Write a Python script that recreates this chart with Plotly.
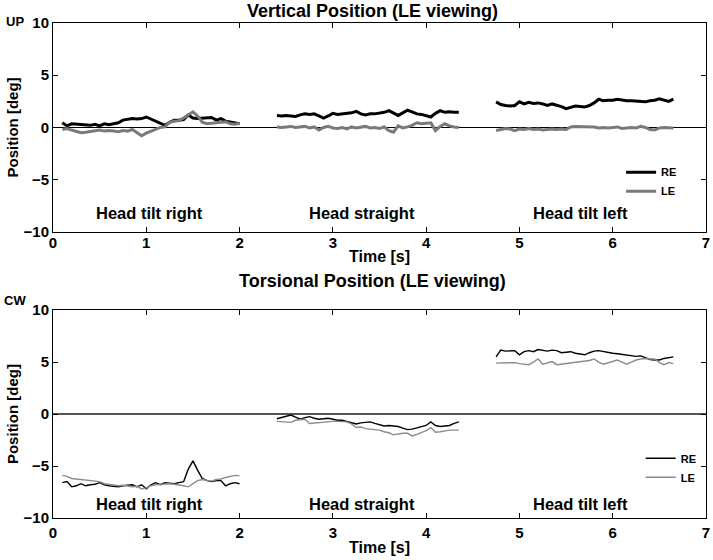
import numpy as np
import plotly.graph_objects as go

# ---- time bases (s) ----
t_seg1 = np.round(np.arange(0.10, 2.001, 0.05), 2)
t_seg2 = np.round(np.arange(2.40, 4.351, 0.05), 2)
t_seg3 = np.round(np.arange(4.75, 6.651, 0.05), 2)

# ---- Vertical position (deg) ----
vert_re_seg1 = [0.45, 0.15, 0.35, 0.3, 0.3, 0.25, 0.2, 0.3, 0.15, 0.35, 0.25, 0.35, 0.45, 0.7, 0.75,
                0.85, 0.8, 0.85, 1.0, 0.8, 0.6, 0.4, 0.2, 0.5, 0.7, 0.7, 0.75, 1.2, 0.9, 0.85,
                0.9, 0.9, 0.95, 0.7, 0.85, 0.6, 0.5, 0.45, 0.35]
vert_le_seg1 = [-0.2, -0.1, -0.25, -0.35, -0.5, -0.45, -0.4, -0.3, -0.25, -0.35, -0.3, -0.35, -0.4, -0.3, -0.35,
                -0.2, -0.5, -0.8, -0.55, -0.35, -0.15, 0.0, 0.05, 0.5, 0.6, 0.65, 0.9, 1.2, 1.5, 1.1,
                0.5, 0.35, 0.4, 0.45, 0.5, 0.55, 0.35, 0.3, 0.4]
vert_re_seg2 = [1.15, 1.1, 1.15, 1.1, 1.05, 1.2, 1.3, 1.25, 1.3, 1.1, 0.9, 1.1, 1.35, 1.25, 1.3,
                1.3, 1.4, 1.55, 1.3, 1.2, 1.3, 1.3, 1.35, 1.45, 1.6, 1.4, 1.15, 1.4, 1.65, 1.5,
                1.3, 1.25, 1.1, 1.0, 1.35, 1.6, 1.45, 1.5, 1.45, 1.45]
vert_le_seg2 = [0.05, 0.0, 0.05, 0.1, 0.0, 0.05, 0.1, -0.05, 0.05, -0.25, 0.0, 0.1, -0.05, -0.1, 0.0,
                -0.15, 0.05, -0.05, 0.0, 0.1, -0.05, 0.0, -0.1, 0.05, -0.3, -0.45, 0.15, -0.05, 0.05, 0.2,
                0.45, 0.35, 0.4, 0.45, -0.3, 0.1, 0.35, 0.15, 0.05, 0.0]
vert_re_seg3 = [2.45, 2.2, 2.1, 2.05, 2.1, 2.45, 2.25, 2.4, 2.3, 2.35, 2.25, 2.1, 2.25, 2.15, 2.0,
                1.8, 1.95, 2.05, 2.0, 1.95, 2.1, 2.35, 2.7, 2.55, 2.6, 2.6, 2.7, 2.6, 2.55, 2.55,
                2.5, 2.5, 2.45, 2.55, 2.6, 2.75, 2.6, 2.5, 2.7]
vert_le_seg3 = [-0.3, -0.2, -0.1, -0.15, -0.3, -0.15, -0.2, -0.1, -0.2, -0.15, -0.25, -0.2, -0.15, -0.2, -0.15,
                -0.2, 0.05, 0.1, 0.1, 0.1, 0.05, 0.05, -0.05, 0.0, -0.05, 0.0, 0.05, -0.1, -0.05, 0.0,
                -0.05, 0.1, 0.0, -0.2, -0.25, -0.05, 0.0, -0.05, -0.05]

# ---- Torsional position (deg) ----
tors_re_seg1 = [-6.6, -6.5, -7.0, -6.9, -6.7, -6.9, -6.8, -6.75, -6.6, -6.8, -6.9, -6.95, -7.0, -6.9, -6.85,
                -6.8, -7.0, -6.8, -7.2, -6.8, -6.6, -6.8, -6.6, -6.65, -6.7, -6.6, -6.5, -5.3, -4.5, -5.4,
                -6.2, -6.4, -6.5, -6.4, -6.4, -6.9, -6.7, -6.6, -6.7]
tors_le_seg1 = [-5.9, -6.0, -6.2, -6.25, -6.3, -6.35, -6.4, -6.45, -6.5, -6.7, -6.75, -6.8, -6.9, -6.85, -6.95,
                -7.0, -6.95, -7.2, -7.1, -6.9, -6.8, -6.75, -6.7, -6.7, -6.75, -6.8, -6.9, -7.0, -6.7, -6.4,
                -6.3, -6.4, -6.45, -6.3, -6.25, -6.1, -6.0, -5.9, -5.95]
tors_re_seg2 = [-0.45, -0.35, -0.2, -0.1, -0.3, -0.5, -0.35, -0.25, -0.4, -0.5, -0.45, -0.4, -0.5, -0.6, -0.6,
                -0.7, -0.85, -0.95, -0.85, -0.8, -0.75, -0.9, -1.05, -1.15, -1.1, -1.15, -1.2, -1.35, -1.5, -1.45,
                -1.35, -1.25, -1.1, -0.75, -1.1, -1.2, -1.15, -1.1, -0.9, -0.75]
tors_le_seg2 = [-0.7, -0.75, -0.75, -0.8, -0.6, -0.55, -0.5, -0.9, -0.85, -0.8, -0.75, -0.7, -0.7, -0.7, -0.72,
                -0.75, -0.95, -1.3, -1.25, -1.4, -1.45, -1.5, -1.55, -1.7, -1.8, -2.0, -1.9, -1.85, -1.85, -2.1,
                -1.95, -1.75, -1.6, -1.3, -1.75, -1.7, -1.6, -1.55, -1.55, -1.55]
tors_re_seg3 = [5.5, 6.15, 6.05, 6.05, 6.1, 5.7, 6.0, 6.1, 6.0, 6.2, 6.1, 6.05, 6.15, 6.1, 5.9,
                5.95, 6.0, 5.85, 5.75, 5.7, 5.9, 6.05, 6.1, 6.0, 5.9, 5.85, 5.8, 5.75, 5.7, 5.6,
                5.55, 5.6, 5.4, 5.25, 5.2, 5.2, 5.35, 5.4, 5.5]
tors_le_seg3 = [4.9, 4.9, 4.9, 4.95, 4.95, 4.85, 4.8, 4.75, 5.0, 5.3, 4.8, 4.95, 5.05, 4.75, 4.8,
                4.9, 4.95, 4.95, 5.0, 5.05, 5.15, 5.3, 5.0, 4.8, 4.95, 5.05, 5.2, 5.0, 4.8, 5.0,
                5.2, 5.3, 5.35, 5.3, 5.3, 4.95, 4.75, 4.95, 4.85]

condition_labels = ["Head tilt right", "Head straight", "Head tilt left"]
condition_x = [1.03, 3.31, 5.65]
y_ticks = [-10, -5, 0, 5, 10]
x_ticks = [0, 1, 2, 3, 4, 5, 6, 7]


def join(segs_t, segs_v):
    xs, ys = [], []
    for i, (t, v) in enumerate(zip(segs_t, segs_v)):
        if i:
            xs.append(None)
            ys.append(None)
        xs += list(t)
        ys += list(v)
    return xs, ys


T = [t_seg1, t_seg2, t_seg3]
FONT = "Liberation Sans, Arial, sans-serif"

fig = go.Figure()

x, y = join(T, [vert_re_seg1, vert_re_seg2, vert_re_seg3])
fig.add_trace(go.Scatter(x=x, y=y, mode="lines", name="RE", line=dict(color="black", width=3),
                         xaxis="x", yaxis="y", legend="legend"))
x, y = join(T, [vert_le_seg1, vert_le_seg2, vert_le_seg3])
fig.add_trace(go.Scatter(x=x, y=y, mode="lines", name="LE", line=dict(color="#7a7a7a", width=3),
                         xaxis="x", yaxis="y", legend="legend"))
x, y = join(T, [tors_re_seg1, tors_re_seg2, tors_re_seg3])
fig.add_trace(go.Scatter(x=x, y=y, mode="lines", name="RE", line=dict(color="black", width=1.4),
                         xaxis="x2", yaxis="y2", legend="legend2"))
x, y = join(T, [tors_le_seg1, tors_le_seg2, tors_le_seg3])
fig.add_trace(go.Scatter(x=x, y=y, mode="lines", name="LE", line=dict(color="#8c8c8c", width=1.4),
                         xaxis="x2", yaxis="y2", legend="legend2"))

tickfont = dict(family=FONT, size=15, color="black", weight="bold")
axis_common = dict(showline=True, linecolor="black", linewidth=1, mirror="ticks", ticks="inside",
                   ticklen=5, tickcolor="black", showgrid=False, tickfont=tickfont, automargin=False)

xa = dict(axis_common, range=[0, 7], tickvals=x_ticks, zeroline=False, ticklabelstandoff=-3,
          title=dict(text="Time [s]", font=dict(family=FONT, size=16, color="black", weight="bold"), standoff=0))
ya = dict(axis_common, range=[-10, 10], tickvals=y_ticks, zeroline=True,
          title=dict(text="Position [deg]", font=dict(family=FONT, size=15, color="black", weight="bold"), standoff=1))

xa2 = dict(xa, ticklabelstandoff=1,
           title=dict(text="Time [s]", font=dict(family=FONT, size=16, color="black", weight="bold"), standoff=1))

fig.update_layout(
    width=713, height=560,
    margin=dict(l=53, r=7, t=23, b=42),
    paper_bgcolor="white", plot_bgcolor="white",
    xaxis=dict(xa, domain=[0, 1], anchor="y"),
    yaxis=dict(ya, domain=[0.578, 1], anchor="x", zerolinecolor="black", zerolinewidth=1),
    xaxis2=dict(xa2, domain=[0, 1], anchor="y2"),
    yaxis2=dict(ya, domain=[0, 0.420], anchor="x2", zerolinecolor="#555555", zerolinewidth=1.5),
    legend=dict(x=0.87, y=0.728, xanchor="left", yanchor="top", bgcolor="rgba(0,0,0,0)",
                font=dict(family=FONT, size=11, color="black", weight="bold"), itemwidth=30,
                tracegroupgap=0),
    legend2=dict(x=0.9, y=0.15, xanchor="left", yanchor="top", bgcolor="rgba(0,0,0,0)",
                 font=dict(family=FONT, size=11, color="black", weight="bold"), itemwidth=30,
                 tracegroupgap=0),
    showlegend=True,
)

ann = []
for lab, cx in zip(condition_labels, condition_x):
    ann.append(dict(x=cx, y=-8.2, xref="x", yref="y", text=lab, showarrow=False, yanchor="middle",
                    font=dict(family=FONT, size=16.5, color="black", weight="bold")))
    ann.append(dict(x=cx, y=-8.7, xref="x2", yref="y2", text=lab, showarrow=False, yanchor="middle",
                    font=dict(family=FONT, size=16.5, color="black", weight="bold")))
ann.append(dict(x=0.49, y=1.0, xref="paper", yref="paper", yanchor="middle", yshift=12,
                text="Vertical Position (LE viewing)",
                showarrow=False, font=dict(family=FONT, size=18, color="black", weight="bold")))
ann.append(dict(x=0.49, y=0.420, xref="paper", yref="paper", yanchor="middle", yshift=29,
                text="Torsional Position (LE viewing)",
                showarrow=False, font=dict(family=FONT, size=18, color="black", weight="bold")))
ann.append(dict(x=-0.058, y=10, xref="paper", yref="y", xanchor="center", yanchor="middle", yshift=2,
                text="UP", showarrow=False, font=dict(family=FONT, size=13, color="black", weight="bold")))
ann.append(dict(x=-0.058, y=10, xref="paper", yref="y2", xanchor="center", yanchor="middle", yshift=10,
                text="CW", showarrow=False, font=dict(family=FONT, size=13, color="black", weight="bold")))
fig.update_layout(annotations=ann)

fig.write_html("out.html", config={"displayModeBar": False},
               post_script="document.body.style.margin='0';")
